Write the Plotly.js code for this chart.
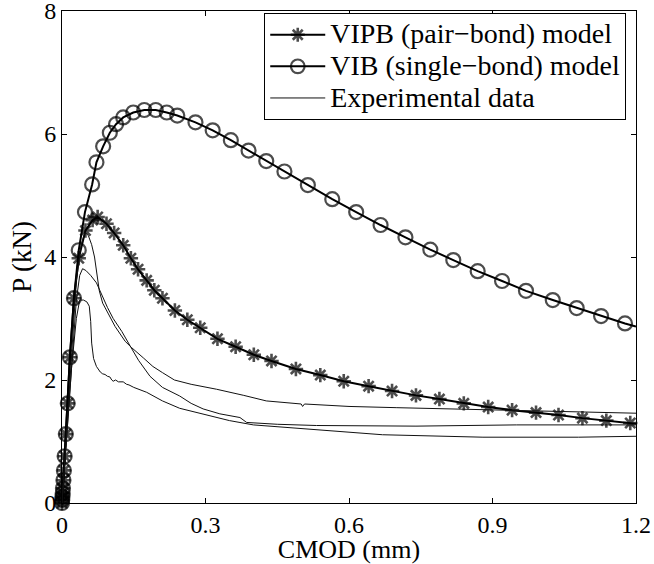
<!DOCTYPE html>
<html>
<head>
<meta charset="utf-8">
<script src="https://cdn.plot.ly/plotly-3.0.1.min.js"></script>
<style>html,body{margin:0;padding:0;background:#fff;}#chart{width:654px;height:564px;}</style>
</head>
<body>
<div id="chart"></div>
<script>
// VIPB (pair-bond) model
const vipbX = [0,0.0005,0.001,0.0015,0.002,0.003,0.004,0.0055,0.008,0.012,0.0165,0.025,0.035,0.049,0.064,0.0745,0.093,0.109,0.128,0.144,0.159,0.177,0.193,0.210,0.236,0.262,0.289,0.325,0.363,0.401,0.438,0.489,0.540,0.589,0.641,0.690,0.740,0.789,0.840,0.891,0.941,0.991,1.038,1.088,1.138,1.188,1.2];
const vipbY = [0,0.05,0.1,0.16,0.24,0.37,0.53,0.76,1.12,1.62,2.37,3.33,3.98,4.43,4.60,4.65,4.54,4.39,4.19,3.98,3.80,3.62,3.46,3.33,3.13,2.98,2.85,2.67,2.54,2.41,2.31,2.18,2.08,1.98,1.90,1.82,1.75,1.69,1.62,1.56,1.51,1.47,1.43,1.38,1.34,1.30,1.29];
// VIB (single-bond) model
const vibX = [0,0.0005,0.001,0.0015,0.002,0.003,0.004,0.0055,0.008,0.012,0.0165,0.025,0.035,0.048,0.063,0.072,0.086,0.100,0.113,0.128,0.149,0.172,0.196,0.219,0.241,0.279,0.315,0.353,0.390,0.427,0.465,0.514,0.565,0.615,0.666,0.718,0.770,0.818,0.869,0.920,0.970,1.026,1.076,1.127,1.177,1.2];
const vibY = [0,0.05,0.1,0.16,0.24,0.37,0.53,0.76,1.12,1.62,2.37,3.33,4.11,4.73,5.18,5.54,5.80,6.02,6.16,6.27,6.35,6.39,6.39,6.35,6.30,6.19,6.06,5.90,5.73,5.56,5.39,5.17,4.94,4.73,4.52,4.32,4.12,3.95,3.77,3.61,3.45,3.30,3.17,3.04,2.92,2.87];
// Experimental data (three specimens)
const expAX = [0,0.01,0.02,0.03,0.04,0.048,0.055,0.062,0.068,0.073,0.078,0.085,0.097,0.111,0.132,0.145,0.17,0.19,0.21,0.235,0.27,0.323,0.38,0.427,0.5,0.503,0.507,0.6,0.7,0.8,0.9,1.0,1.1,1.2];
const expAY = [0,1.2,2.5,3.6,4.2,4.40,4.35,4.2,4.0,3.7,3.45,3.25,3.08,2.87,2.63,2.53,2.36,2.22,2.12,2.0,1.93,1.85,1.75,1.66,1.61,1.57,1.61,1.57,1.55,1.53,1.51,1.49,1.47,1.46];
const expBX = [0,0.01,0.02,0.03,0.037,0.043,0.05,0.06,0.072,0.085,0.095,0.107,0.125,0.142,0.16,0.184,0.21,0.246,0.27,0.295,0.33,0.372,0.386,0.45,0.532,0.74,0.95,1.2];
const expBY = [0,1.1,2.3,3.3,3.7,3.81,3.78,3.7,3.58,3.35,3.18,3.0,2.79,2.56,2.32,2.06,1.88,1.74,1.62,1.53,1.45,1.39,1.31,1.28,1.26,1.25,1.27,1.27];
const expCX = [0,0.01,0.02,0.03,0.037,0.045,0.052,0.057,0.06,0.062,0.066,0.072,0.08,0.085,0.09,0.095,0.1,0.104,0.107,0.112,0.118,0.128,0.135,0.14,0.15,0.177,0.21,0.246,0.3,0.35,0.4,0.53,0.67,0.88,1.08,1.2];
const expCY = [0,1.1,2.2,3.0,3.3,3.3,3.27,3.2,2.95,2.6,2.35,2.22,2.13,2.1,2.09,2.06,2.05,2.0,1.98,2.0,1.97,1.97,1.93,1.92,1.88,1.80,1.66,1.54,1.43,1.34,1.27,1.19,1.11,1.07,1.07,1.085];

const seriesNames = ['VIPB (pair\u2212bond) model', 'VIB (single\u2212bond) model', 'Experimental data'];
const xTicks = [0,0.3,0.6,0.9,1.2];
const xTickText = ['0','0.3','0.6','0.9','1.2'];
const yTicks = [0,2,4,6,8];
const yTickText = ['0','2','4','6','8'];

const FONT = 'Liberation Serif, Times New Roman, serif';
const sizes = (arr, s) => arr.map((v, i) => (i === arr.length - 1 ? 0 : s));
const legName = (t) => '<span style="font-size:28px">' + t + '</span>';

const traces = [
  {x: vipbX, y: vipbY, type: 'scatter', mode: 'lines+markers', name: legName(seriesNames[0]),
   line: {color: '#000', width: 2},
   marker: {symbol: 'asterisk-open', size: sizes(vipbX, 12), color: '#000', line: {color: '#000', width: 2.6}},
   cliponaxis: false},
  {x: vibX, y: vibY, type: 'scatter', mode: 'lines+markers', name: legName(seriesNames[1]),
   line: {color: '#000', width: 2},
   marker: {symbol: 'circle-open', size: sizes(vibX, 14), color: '#000', line: {color: '#000', width: 2.2}},
   cliponaxis: false},
  {x: expAX, y: expAY, type: 'scatter', mode: 'lines', name: legName(seriesNames[2]),
   line: {color: '#111', width: 1}},
  {x: expBX, y: expBY, type: 'scatter', mode: 'lines', showlegend: false,
   line: {color: '#111', width: 1}},
  {x: expCX, y: expCY, type: 'scatter', mode: 'lines', showlegend: false,
   line: {color: '#111', width: 1}}
];

const axisBase = {
  showgrid: false, zeroline: false, showline: true, linecolor: '#000', linewidth: 1,
  mirror: 'ticks', ticks: 'inside', ticklen: 5, tickcolor: '#000', tickwidth: 1,
  ticklabeloverflow: 'allow',
  tickfont: {family: FONT, size: 24, color: '#000'}
};

const layout = {
  width: 654, height: 564,
  margin: {l: 62, r: 18, t: 11, b: 61},
  paper_bgcolor: '#fff', plot_bgcolor: '#fff',
  showlegend: true,
  legend: {
    x: 0.983, xanchor: 'right', y: 0.996, yanchor: 'top',
    bgcolor: '#fff', bordercolor: '#000', borderwidth: 1,
    font: {family: FONT, size: 22, color: '#000'},
    itemwidth: 55
  },
  xaxis: Object.assign({}, axisBase, {
    range: [0, 1.2], tickvals: xTicks, ticktext: xTickText,
    title: {text: 'CMOD (mm)', font: {family: FONT, size: 26, color: '#000'}, standoff: 0}
  }),
  yaxis: Object.assign({}, axisBase, {
    range: [0, 8], tickvals: yTicks, ticktext: yTickText,
    title: {text: 'P (kN)', font: {family: FONT, size: 27, color: '#000'}, standoff: 4}
  })
};

Plotly.newPlot('chart', traces, layout, {displayModeBar: false, staticPlot: true});
</script>
</body>
</html>
